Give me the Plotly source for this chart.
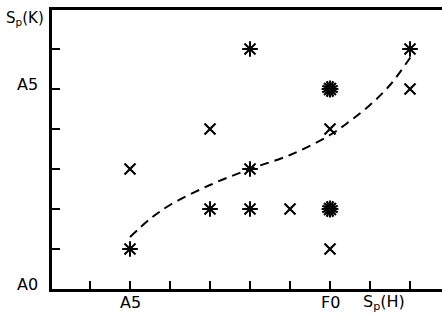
import plotly.graph_objects as go

# Spectral sub-type indices: x = Sp(H) (A5 = 5, F0 = 10), y = Sp(K) (A0 = 0, A5 = 5)
star_x = [5, 7, 8, 8, 8, 12]
star_y = [1, 2, 6, 3, 2, 6]
bold_star_x = [10, 10]
bold_star_y = [5, 2]
cross_x = [5, 7, 9, 10, 10, 12]
cross_y = [3, 4, 2, 4, 1, 5]
curve_x = [5.0, 5.5, 6.0, 7.0, 8.0, 9.0, 10.0, 10.5, 11.0, 11.5, 12.05]
curve_y = [1.3, 1.75, 2.1, 2.6, 3.0, 3.35, 3.85, 4.2, 4.6, 5.1, 5.85]

x_tick_vals = [4, 5, 6, 7, 8, 9, 10, 11, 12]
y_tick_vals = [1, 2, 3, 4, 5, 6]
x_label_vals = [5, 10]
x_label_text = ["A5", "F0"]
y_label_vals = [0, 5]
y_label_text = ["A0", "A5"]
x_title = "S<sub>p</sub>(H)"
y_title = "S<sub>p</sub>(K)"

FONT = "DejaVu Sans"
fig = go.Figure()

fig.add_trace(go.Scatter(x=curve_x, y=curve_y, mode="lines",
                         line=dict(color="black", width=2, dash="9px,6px", shape="spline"),
                         hoverinfo="skip", showlegend=False))
fig.add_trace(go.Scatter(x=star_x, y=star_y, mode="markers",
                         marker=dict(symbol="asterisk-open", size=13, color="black",
                                     line=dict(color="black", width=2)),
                         showlegend=False))
for ang in (0, 22.5):
    fig.add_trace(go.Scatter(x=bold_star_x, y=bold_star_y, mode="markers",
                             marker=dict(symbol="asterisk-open", size=14, angle=ang, color="black",
                                         line=dict(color="black", width=2.2)),
                             showlegend=False))
fig.add_trace(go.Scatter(x=cross_x, y=cross_y, mode="markers",
                         marker=dict(symbol="x-thin-open", size=11, color="black",
                                     line=dict(color="black", width=2.2)),
                         showlegend=False))

lab_font = dict(family=FONT, size=16, color="black")
for v, t in zip(x_label_vals, x_label_text):
    fig.add_annotation(x=v, y=-0.05, xref="x", yref="paper", text=t, showarrow=False,
                       font=lab_font, xanchor="center", yanchor="middle")
for v, t in zip(y_label_vals, y_label_text):
    fig.add_annotation(x=-0.062, y=v + 0.12, xref="paper", yref="y", text=t, showarrow=False,
                       font=lab_font, xanchor="center", yanchor="middle")
fig.add_annotation(x=11.35, y=-0.05, xref="x", yref="paper", text=x_title, showarrow=False,
                   font=lab_font, xanchor="center", yanchor="middle")
fig.add_annotation(x=-0.07, y=1.01, xref="paper", yref="paper", text=y_title, showarrow=False,
                   font=dict(family=FONT, size=15, color="black"),
                   xanchor="center", yanchor="top")

fig.update_xaxes(range=[3.05, 12.8], showline=True, linecolor="black", linewidth=2.5,
                 mirror=True, ticks="inside", ticklen=8, tickwidth=2, tickcolor="black",
                 tickvals=x_tick_vals, showticklabels=False, showgrid=False, zeroline=False)
fig.update_yaxes(range=[0, 6.975], showline=True, linecolor="black", linewidth=2.5,
                 mirror=False, ticks="inside", ticklen=8, tickwidth=2, tickcolor="black",
                 tickvals=y_tick_vals, showticklabels=False, showgrid=False, zeroline=False)

fig.update_layout(width=442, height=322, margin=dict(l=52, r=0, t=10, b=33),
                  paper_bgcolor="white", plot_bgcolor="white", showlegend=False)
fig.write_html("out.html", config={"displayModeBar": False},
               post_script="document.body.style.margin='0';document.body.style.overflow='hidden';")
